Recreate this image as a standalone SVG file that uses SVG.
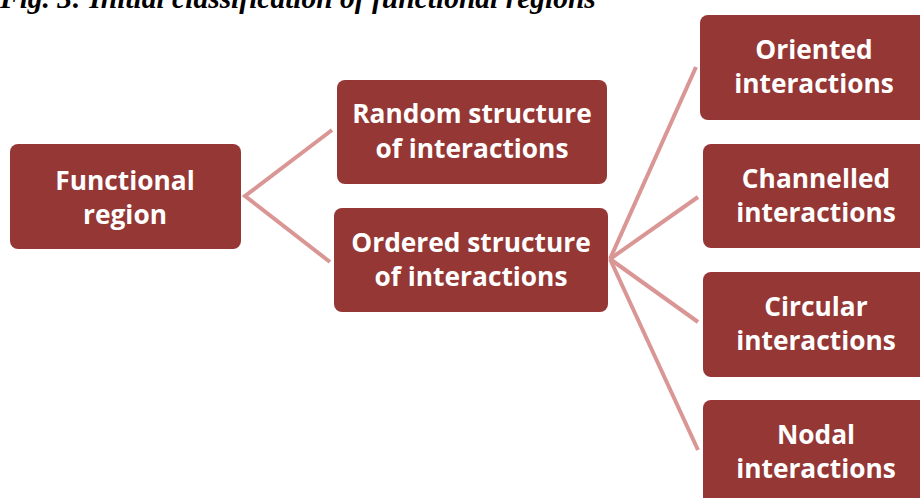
<svg xmlns="http://www.w3.org/2000/svg" width="920" height="498" viewBox="0 0 920 498">
<style>
.box{fill:#953735;}
.lbl{font-family:"Open Sans","Liberation Sans",sans-serif;font-weight:bold;font-size:26.3px;fill:#ffffff;text-anchor:middle;}
.con{stroke:#d99694;stroke-width:4;fill:none;}
.title{font-family:"Liberation Serif",serif;font-weight:bold;font-style:italic;font-size:29.5px;fill:#000;}
</style>
<rect width="920" height="498" fill="#ffffff"/>
<text class="title" x="0" y="8">Fig. 3: Initial classification of functional regions</text>
<g id="connectors">
<polyline class="con" points="332,130 245,196 330,262"/>
<line class="con" x1="610" y1="259" x2="696" y2="67"/>
<line class="con" x1="610" y1="259" x2="698" y2="197"/>
<line class="con" x1="610" y1="259" x2="698" y2="322"/>
<line class="con" x1="610" y1="259" x2="698" y2="450"/>
</g>
<g id="functional-region">
<rect class="box" x="10" y="144" width="231" height="105" rx="8"/>
<text class="lbl" x="125" y="190">Functional</text>
<text class="lbl" x="125" y="224">region</text>
</g>
<g id="random-structure">
<rect class="box" x="337" y="80" width="270" height="104" rx="8"/>
<text class="lbl" x="472" y="123">Random structure</text>
<text class="lbl" x="472" y="158">of interactions</text>
</g>
<g id="ordered-structure">
<rect class="box" x="334" y="208" width="274" height="104" rx="8"/>
<text class="lbl" x="471" y="252">Ordered structure</text>
<text class="lbl" x="471" y="286">of interactions</text>
</g>
<g id="oriented">
<rect class="box" x="700" y="15" width="230" height="105" rx="8"/>
<text class="lbl" x="814" y="59">Oriented</text>
<text class="lbl" x="814" y="93">interactions</text>
</g>
<g id="channelled">
<rect class="box" x="703" y="144" width="227" height="104" rx="8"/>
<text class="lbl" x="816" y="188">Channelled</text>
<text class="lbl" x="816" y="222">interactions</text>
</g>
<g id="circular">
<rect class="box" x="703" y="272" width="227" height="105" rx="8"/>
<text class="lbl" x="816" y="316">Circular</text>
<text class="lbl" x="816" y="350">interactions</text>
</g>
<g id="nodal">
<rect class="box" x="703" y="400" width="227" height="110" rx="8"/>
<text class="lbl" x="816" y="444">Nodal</text>
<text class="lbl" x="816" y="478">interactions</text>
</g>
</svg>
